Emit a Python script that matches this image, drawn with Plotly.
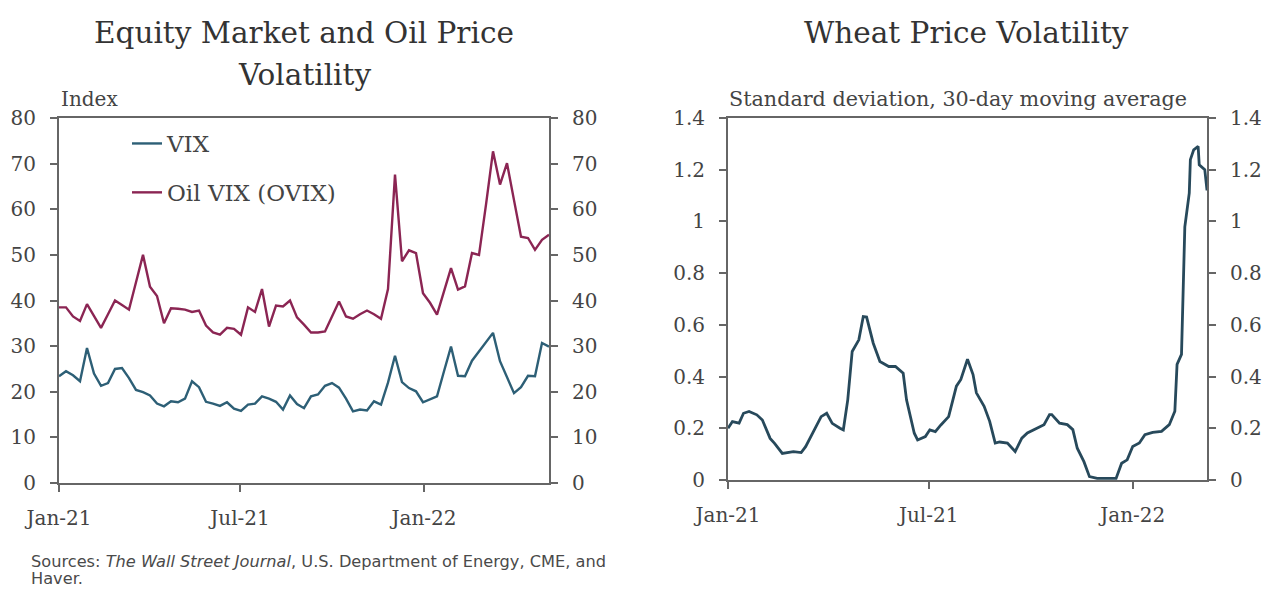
import pandas as pd
import plotly.graph_objects as go

# ---- Equity market and oil price volatility (weekly, index) ----
week_dates = pd.date_range("2021-01-01", periods=71, freq="7D")

vix = [23.4, 24.5, 23.6, 22.3, 29.6, 24.0, 21.3, 21.9, 25.0, 25.2,
       23.0, 20.4, 19.9, 19.2, 17.4, 16.8, 17.9, 17.7, 18.5, 22.3,
       21.0, 17.8, 17.4, 16.9, 17.7, 16.3, 15.8, 17.2, 17.4, 19.0,
       18.5, 17.8, 16.1, 19.2, 17.3, 16.4, 19.0, 19.4, 21.3, 21.9,
       20.9, 18.5, 15.7, 16.1, 15.9, 17.9, 17.2, 22.0, 27.9, 22.1,
       20.8, 20.1, 17.7, 18.3, 19.0, 24.5, 29.9, 23.5, 23.4, 26.8,
       28.9, 31.0, 32.9, 26.7, 23.0, 19.7, 21.0, 23.5, 23.4, 30.7,
       29.9]

ovix = [38.5, 38.5, 36.5, 35.5, 39.2, 36.5, 34.0, 37.0, 40.0, 39.0,
        38.0, 44.0, 50.0, 43.0, 41.0, 35.0, 38.3, 38.2, 38.0, 37.5,
        37.8, 34.5, 33.0, 32.5, 34.0, 33.8, 32.5, 38.5, 37.5, 42.5,
        34.3, 38.9, 38.7, 40.0, 36.3, 34.7, 33.0, 33.0, 33.2, 36.5,
        39.8, 36.5, 36.0, 37.0, 37.8, 37.0, 36.0, 42.5, 67.6, 48.6,
        51.0, 50.4, 41.6, 39.5, 36.9, 42.0, 47.1, 42.4, 43.1, 50.4,
        50.0, 61.0, 72.7, 65.4, 70.1, 62.0, 54.0, 53.7, 51.1, 53.3,
        54.4]

# ---- Wheat price volatility (standard deviation, 30-day moving average) ----
wheat_dates = [
    "2021-01-01", "2021-01-05", "2021-01-11", "2021-01-15", "2021-01-20",
    "2021-01-27", "2021-02-01", "2021-02-08", "2021-02-12", "2021-02-19",
    "2021-03-01", "2021-03-08", "2021-03-12", "2021-03-19", "2021-03-26",
    "2021-03-31", "2021-04-05", "2021-04-12", "2021-04-15", "2021-04-19",
    "2021-04-23", "2021-04-29", "2021-05-03", "2021-05-06", "2021-05-12",
    "2021-05-18", "2021-05-26", "2021-06-01", "2021-06-08", "2021-06-11",
    "2021-06-18", "2021-06-21", "2021-06-28", "2021-07-02", "2021-07-07",
    "2021-07-12", "2021-07-19", "2021-07-26", "2021-07-30", "2021-08-05",
    "2021-08-10", "2021-08-13", "2021-08-20", "2021-08-25", "2021-08-30",
    "2021-09-03", "2021-09-10", "2021-09-17", "2021-09-23", "2021-09-28",
    "2021-10-07", "2021-10-13", "2021-10-18", "2021-10-20", "2021-10-27",
    "2021-11-03", "2021-11-08", "2021-11-12", "2021-11-18", "2021-11-23",
    "2021-11-30", "2021-12-17", "2021-12-22", "2021-12-27", "2022-01-01",
    "2022-01-07", "2022-01-12", "2022-01-19", "2022-01-27", "2022-02-03",
    "2022-02-08", "2022-02-10", "2022-02-14", "2022-02-17", "2022-02-21",
    "2022-02-22", "2022-02-25", "2022-03-01", "2022-03-02", "2022-03-07",
    "2022-03-09",
]
wheat_sd = [
    0.200, 0.226, 0.220, 0.258, 0.265,
    0.252, 0.232, 0.161, 0.142, 0.103,
    0.110, 0.106, 0.129, 0.187, 0.245,
    0.258, 0.219, 0.200, 0.194, 0.310,
    0.497, 0.542, 0.632, 0.630, 0.529,
    0.458, 0.439, 0.439, 0.413, 0.310,
    0.181, 0.155, 0.168, 0.194, 0.187,
    0.213, 0.245, 0.363, 0.389, 0.467,
    0.408, 0.337, 0.285, 0.227, 0.143,
    0.147, 0.143, 0.110, 0.162, 0.182,
    0.201, 0.214, 0.253, 0.253, 0.220,
    0.214, 0.195, 0.123, 0.071, 0.013,
    0.006, 0.006, 0.065, 0.078, 0.130,
    0.143, 0.175, 0.184, 0.188, 0.214,
    0.266, 0.447, 0.486, 0.979, 1.109,
    1.239, 1.277, 1.290, 1.219, 1.200,
    1.120,
]

left_ticks = [0, 10, 20, 30, 40, 50, 60, 70, 80]
right_ticks = [0, 0.2, 0.4, 0.6, 0.8, 1.0, 1.2, 1.4]

VIX_COLOR = "#2d5f76"
OVIX_COLOR = "#8b2553"
WHEAT_COLOR = "#27495b"
AXIS_COLOR = "#666666"
TEXT_COLOR = "#444444"
SERIF = "DejaVu Serif, serif"
SANS = "DejaVu Sans, sans-serif"

W, H = 1265, 592

def px_x(p):
    return p / W

def px_y(p):
    return 1 - p / H

fig = go.Figure()

fig.add_trace(go.Scatter(x=week_dates, y=vix, mode="lines", name="VIX",
                         line=dict(color=VIX_COLOR, width=2.4),
                         xaxis="x", yaxis="y", legendgroup="a"))
fig.add_trace(go.Scatter(x=week_dates, y=ovix, mode="lines", name="Oil VIX (OVIX)",
                         line=dict(color=OVIX_COLOR, width=2.4),
                         xaxis="x", yaxis="y", legendgroup="b"))
fig.add_trace(go.Scatter(x=pd.to_datetime(wheat_dates), y=wheat_sd, mode="lines",
                         line=dict(color=WHEAT_COLOR, width=2.8),
                         xaxis="x2", yaxis="y3", showlegend=False))

# invisible traces so the right-hand axes are drawn
fig.add_trace(go.Scatter(x=[week_dates[0]], y=[0], xaxis="x", yaxis="y2",
                         mode="markers", marker=dict(opacity=0),
                         showlegend=False, hoverinfo="skip"))
fig.add_trace(go.Scatter(x=[pd.Timestamp("2021-01-01")], y=[0], xaxis="x2", yaxis="y4",
                         mode="markers", marker=dict(opacity=0),
                         showlegend=False, hoverinfo="skip"))

tick_font = dict(family=SERIF, size=20, color=TEXT_COLOR)

common_x = dict(
    type="date", tickformat="%b-%y", dtick="M6", tick0="2021-01-01",
    showline=True, linecolor=AXIS_COLOR, linewidth=2, mirror=True,
    ticks="outside", ticklen=7, tickwidth=2, tickcolor=AXIS_COLOR,
    showgrid=False, zeroline=False, tickfont=tick_font, fixedrange=True,
    automargin=False, ticklabelstandoff=9,
)
common_y = dict(
    showline=True, linecolor=AXIS_COLOR, linewidth=2,
    ticks="outside", ticklen=7, tickwidth=2, tickcolor=AXIS_COLOR,
    showgrid=False, zeroline=False, tickfont=tick_font, fixedrange=True,
    automargin=False, ticklabelstandoff=10,
)

left_dom_x = [px_x(59), px_x(549)]
left_dom_y = [px_y(483), px_y(118)]
right_dom_x = [px_x(728), px_x(1207)]
right_dom_y = [px_y(480), px_y(118)]

fig.update_layout(
    width=W, height=H,
    margin=dict(l=0, r=0, t=0, b=0, autoexpand=False),
    paper_bgcolor="white", plot_bgcolor="white",
    xaxis=dict(common_x, domain=left_dom_x, anchor="y",
               range=["2021-01-01", "2022-05-06"]),
    yaxis=dict(common_y, domain=left_dom_y, anchor="x", range=[0, 80],
               tickvals=left_ticks),
    yaxis2=dict(common_y, overlaying="y", side="right", anchor="x",
                range=[0, 80], tickvals=left_ticks),
    xaxis2=dict(common_x, domain=right_dom_x, anchor="y3",
                range=["2021-01-01", "2022-03-09"]),
    yaxis3=dict(common_y, domain=right_dom_y, anchor="x2", range=[0, 1.4],
                tickvals=right_ticks),
    yaxis4=dict(common_y, overlaying="y3", side="right", anchor="x2",
                range=[0, 1.4], tickvals=right_ticks),
    legend=dict(x=px_x(127), y=px_y(122), xanchor="left", yanchor="top",
                bgcolor="rgba(0,0,0,0)", borderwidth=0,
                font=dict(family=SERIF, size=23, color=TEXT_COLOR),
                traceorder="grouped", tracegroupgap=16, itemwidth=30),
    showlegend=True,
)

annotations = [
    dict(text="Equity Market and Oil Price", x=px_x(304), y=px_y(33),
         font=dict(family=SERIF, size=29.5, color="#333333")),
    dict(text="Volatility", x=px_x(304), y=px_y(75),
         font=dict(family=SERIF, size=29.5, color="#333333")),
    dict(text="Wheat Price Volatility", x=px_x(966), y=px_y(33),
         font=dict(family=SERIF, size=29.5, color="#333333")),
    dict(text="Index", x=px_x(59), y=px_y(99), xanchor="left",
         font=dict(family=SERIF, size=20, color=TEXT_COLOR)),
    dict(text="Standard deviation, 30-day moving average", x=px_x(727), y=px_y(99),
         xanchor="left", font=dict(family=SERIF, size=20.7, color=TEXT_COLOR)),
    dict(text="Sources: <i>The Wall Street Journal</i>, U.S. Department of Energy, CME, and",
         x=px_x(29), y=px_y(561), xanchor="left",
         font=dict(family=SANS, size=16.2, color="#4a4a4a")),
    dict(text="Haver.", x=px_x(29), y=px_y(578), xanchor="left",
         font=dict(family=SANS, size=16.2, color="#4a4a4a")),
]
for a in annotations:
    a.setdefault("xanchor", "center")
    a.update(xref="paper", yref="paper", yanchor="middle", showarrow=False)
fig.update_layout(annotations=annotations)

fig.write_html("out.html")
